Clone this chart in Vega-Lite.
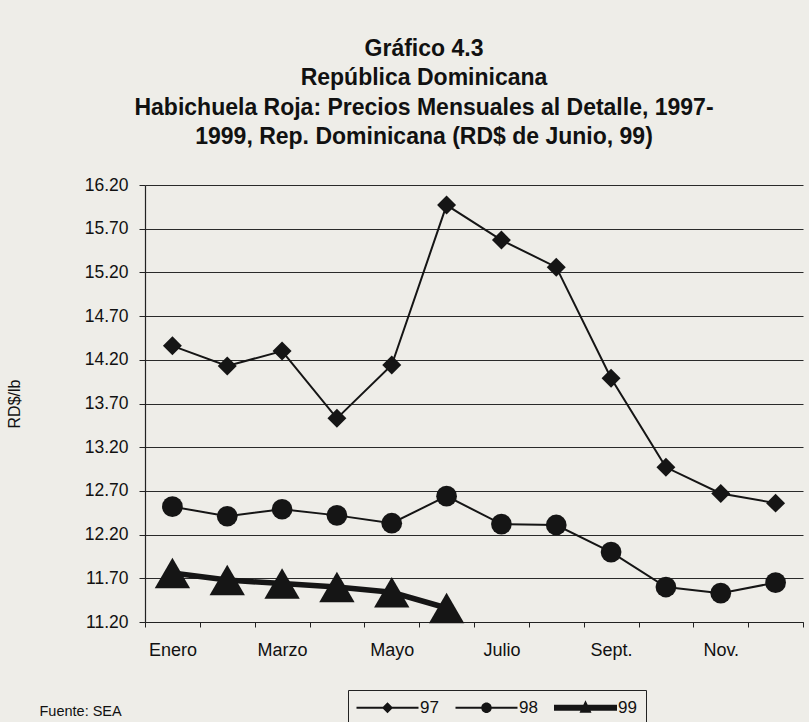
{
  "$schema": "https://vega.github.io/schema/vega-lite/v6.json",
  "width": 658,
  "height": 437,
  "autosize": {"type": "none"},
  "padding": {"left": 145, "top": 185, "right": 6, "bottom": 100},
  "background": "#eeede8",
  "title": {
    "text": ["Gráfico 4.3", "República Dominicana", "Habichuela Roja: Precios Mensuales al Detalle, 1997-", "1999, Rep. Dominicana (RD$ de Junio, 99)"],
    "font": "Liberation Sans",
    "fontSize": 23,
    "fontWeight": "bold",
    "lineHeight": 29.5,
    "color": "#111111",
    "anchor": "middle",
    "dx": -50,
    "offset": 27
  },
  "data": {
    "values": [
      {"mes": "Enero", "anio": "97", "precio": 14.36},
      {"mes": "Febrero", "anio": "97", "precio": 14.13},
      {"mes": "Marzo", "anio": "97", "precio": 14.30},
      {"mes": "Abril", "anio": "97", "precio": 13.53},
      {"mes": "Mayo", "anio": "97", "precio": 14.14},
      {"mes": "Junio", "anio": "97", "precio": 15.97},
      {"mes": "Julio", "anio": "97", "precio": 15.57},
      {"mes": "Agosto", "anio": "97", "precio": 15.26},
      {"mes": "Sept.", "anio": "97", "precio": 13.99},
      {"mes": "Octubre", "anio": "97", "precio": 12.97},
      {"mes": "Nov.", "anio": "97", "precio": 12.67},
      {"mes": "Dic.", "anio": "97", "precio": 12.56},
      {"mes": "Enero", "anio": "98", "precio": 12.52},
      {"mes": "Febrero", "anio": "98", "precio": 12.41},
      {"mes": "Marzo", "anio": "98", "precio": 12.49},
      {"mes": "Abril", "anio": "98", "precio": 12.42},
      {"mes": "Mayo", "anio": "98", "precio": 12.33},
      {"mes": "Junio", "anio": "98", "precio": 12.64},
      {"mes": "Julio", "anio": "98", "precio": 12.32},
      {"mes": "Agosto", "anio": "98", "precio": 12.31},
      {"mes": "Sept.", "anio": "98", "precio": 12.00},
      {"mes": "Octubre", "anio": "98", "precio": 11.60},
      {"mes": "Nov.", "anio": "98", "precio": 11.53},
      {"mes": "Dic.", "anio": "98", "precio": 11.65},
      {"mes": "Enero", "anio": "99", "precio": 11.76},
      {"mes": "Febrero", "anio": "99", "precio": 11.68},
      {"mes": "Marzo", "anio": "99", "precio": 11.64},
      {"mes": "Abril", "anio": "99", "precio": 11.60},
      {"mes": "Mayo", "anio": "99", "precio": 11.54},
      {"mes": "Junio", "anio": "99", "precio": 11.36}
    ]
  },
  "encoding": {
    "x": {
      "field": "mes",
      "type": "nominal",
      "sort": ["Enero", "Febrero", "Marzo", "Abril", "Mayo", "Junio", "Julio", "Agosto", "Sept.", "Octubre", "Nov.", "Dic."],
      "scale": {"type": "band", "paddingInner": 0, "paddingOuter": 0},
      "axis": {
        "title": "Fuente: SEA",
        "titleFont": "Liberation Sans",
        "titleFontSize": 14.5,
        "titleFontWeight": "normal",
        "titleColor": "#111111",
        "titleAnchor": "start",
        "titleAlign": "left",
        "titleBaseline": "middle",
        "titleX": -106,
        "titleY": 89,
        "labelAngle": 0,
        "labelExpr": "indexof(['Enero','Marzo','Mayo','Julio','Sept.','Nov.'], datum.value) >= 0 ? datum.value : ''",
        "labelFont": "Liberation Sans",
        "labelFontSize": 18,
        "labelColor": "#111111",
        "labelPadding": 14,
        "tickBand": "extent",
        "tickSize": 5,
        "tickColor": "#222222",
        "domainColor": "#222222",
        "domainWidth": 1.2,
        "grid": false
      }
    },
    "y": {
      "field": "precio",
      "type": "quantitative",
      "scale": {"domain": [11.2, 16.2], "zero": false, "nice": false},
      "axis": {
        "title": "RD$/lb",
        "titleFont": "Liberation Sans",
        "titleFontSize": 16,
        "titleFontWeight": "normal",
        "titleColor": "#111111",
        "titlePadding": 62,
        "values": [11.2, 11.7, 12.2, 12.7, 13.2, 13.7, 14.2, 14.7, 15.2, 15.7, 16.2],
        "format": ".2f",
        "labelFont": "Liberation Sans",
        "labelFontSize": 17.5,
        "labelColor": "#111111",
        "labelPadding": 11,
        "tickSize": 6,
        "tickColor": "#222222",
        "domainColor": "#222222",
        "domainWidth": 1.2,
        "grid": true,
        "gridColor": "#2a2a2a",
        "gridWidth": 1.2
      }
    }
  },
  "layer": [
    {
      "mark": {"type": "line", "color": "#151515"},
      "encoding": {
        "detail": {"field": "anio", "type": "nominal"},
        "strokeWidth": {"condition": {"test": "datum.anio === '99'", "value": 5.5}, "value": 2}
      }
    },
    {
      "mark": {"type": "point", "filled": true, "color": "#151515", "opacity": 1},
      "encoding": {
        "shape": {
          "condition": [
            {"test": "datum.anio === '97'", "value": "diamond"},
            {"test": "datum.anio === '98'", "value": "circle"}
          ],
          "value": "triangle-up"
        },
        "size": {
          "condition": [
            {"test": "datum.anio === '99'", "value": 1250},
            {"test": "datum.anio === '98'", "value": 430}
          ],
          "value": 360
        }
      }
    },
    {
      "mark": {"type": "point", "filled": true, "color": "#151515", "opacity": 0},
      "encoding": {
        "shape": {
          "field": "anio",
          "type": "nominal",
          "scale": {
            "domain": ["97", "98", "99"],
            "range": [
              "M-6.2,-0.2H6.2V0.2H-6.2Z M0,-1.1L1.1,0L0,1.1L-1.1,0Z",
              "M-6.2,-0.2H6.2V0.2H-6.2Z M1.05,0A1.05,1.05,0,1,1,-1.05,0A1.05,1.05,0,1,1,1.05,0Z",
              "M-6.3,-0.6H6.3V0.6H-6.3Z M0,-1.5L1.2,1H-1.2Z"
            ]
          },
          "legend": {
            "title": null,
            "orient": "none",
            "direction": "horizontal",
            "legendX": 203,
            "legendY": 505,
            "strokeColor": "#222222",
            "padding": 9,
            "columnPadding": 16,
            "symbolSize": 100,
            "symbolOffset": 22,
            "symbolOpacity": 1,
            "symbolFillColor": "#151515",
            "symbolStrokeColor": "#151515",
            "symbolStrokeWidth": 0,
            "labelFont": "Liberation Sans",
            "labelFontSize": 17,
            "labelColor": "#111111",
            "labelOffset": 24
          }
        }
      }
    }
  ],
  "config": {
    "view": {"stroke": null}
  }
}
